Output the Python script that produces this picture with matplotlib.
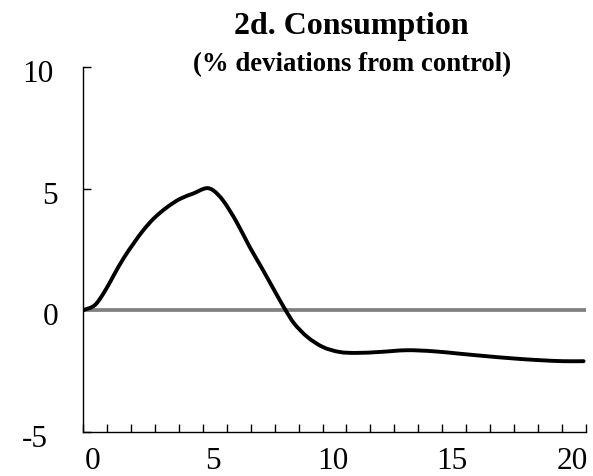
import matplotlib
matplotlib.use("Agg")
import matplotlib.pyplot as plt
from matplotlib.path import Path
from matplotlib.patches import PathPatch
from matplotlib.transforms import ScaledTranslation

# points (period, % deviation)
periodos = [0, 0.5, 0.92, 1.3, 1.7, 2.1, 2.5, 2.95, 3.5, 4.05, 4.6, 5.15,
            5.45, 5.85, 6.4, 6.95, 7.5, 8.1, 8.45, 8.8, 9.35, 10.0, 10.7,
            11.4, 12.4, 13.5, 14.6, 15.7, 16.9, 18.0, 19.1, 20.05, 20.9]
consumo = [0.0, 0.22, 0.80, 1.47, 2.15, 2.73, 3.27, 3.77, 4.23, 4.58, 4.80, 5.02,
           4.92, 4.51, 3.65, 2.62, 1.68, 0.62, 0.02, -0.52, -1.08, -1.50, -1.71,
           -1.75, -1.71, -1.64, -1.68, -1.78, -1.89, -1.98, -2.05, -2.09, -2.09]

controle_x = [0, 21]
controle_y = [0, 0]

n_periodos = 21
rotulos_x = [0, 5, 10, 15, 20]
rotulos_y = [-5, 0, 5, 10]

plt.rcParams['font.family'] = ['Liberation Serif', 'DejaVu Serif']


def curva_suave(xs, ys):
    # smoothed line through the points (cubic Hermite pieces drawn as Bezier)
    n = len(xs)
    incl = []
    for i in range(n):
        a = max(i - 1, 0)
        b = min(i + 1, n - 1)
        incl.append((ys[b] - ys[a]) / (xs[b] - xs[a]))
    verts = [(xs[0], ys[0])]
    codes = [Path.MOVETO]
    for i in range(n - 1):
        h = xs[i + 1] - xs[i]
        verts += [(xs[i] + h / 3, ys[i] + incl[i] * h / 3),
                  (xs[i + 1] - h / 3, ys[i + 1] - incl[i + 1] * h / 3),
                  (xs[i + 1], ys[i + 1])]
        codes += [Path.CURVE4] * 3
    return Path(verts, codes)


fig = plt.figure(figsize=(5.93, 4.76), dpi=100)
ax = fig.add_axes([83 / 593, 1 - 432 / 476, 503 / 593, 365 / 476])

ax.plot(controle_x, controle_y, color='#808080', lw=2.7, solid_capstyle='butt', zorder=2)
ax.add_patch(PathPatch(curva_suave(periodos, consumo), facecolor='none',
                       edgecolor='black', lw=2.8, joinstyle='round', capstyle='round', zorder=3))

ax.set_xlim(0, n_periodos)
ax.set_ylim(-5, 10)

for lado in ['top', 'right']:
    ax.spines[lado].set_visible(False)
for lado in ['left', 'bottom']:
    ax.spines[lado].set_linewidth(1.0)

# category style axis: tick marks on every period, labels sitting between them
ax.set_xticks(range(n_periodos + 1), minor=True)
ax.set_xticks([r + 0.42 for r in rotulos_x])
ax.set_xticklabels([str(r) for r in rotulos_x])
ax.tick_params(axis='x', which='major', length=0, pad=11, labelsize=22.5)
ax.tick_params(axis='x', which='minor', direction='in', length=5.5, width=1.0)

ax.set_yticks(rotulos_y)
ax.set_yticklabels([str(r) for r in rotulos_y])
ax.tick_params(axis='y', direction='in', length=5.5, width=1.0, pad=18, labelsize=22.5)

desvio = {'-5': -10, '10': -4}
for lab in ax.get_yticklabels():
    dx = desvio.get(lab.get_text(), 0)
    lab.set_transform(lab.get_transform() + ScaledTranslation(dx / 100, -4 / 100, fig.dpi_scale_trans))

fig.text(351 / 593, 1 - 34 / 476, '2d. Consumption', ha='center', va='baseline',
         fontsize=23, fontweight='bold')
fig.text(352 / 593, 1 - 71 / 476, '(% deviations from control)', ha='center', va='baseline',
         fontsize=19.3, fontweight='bold')

fig.savefig('out.png', dpi=100)
